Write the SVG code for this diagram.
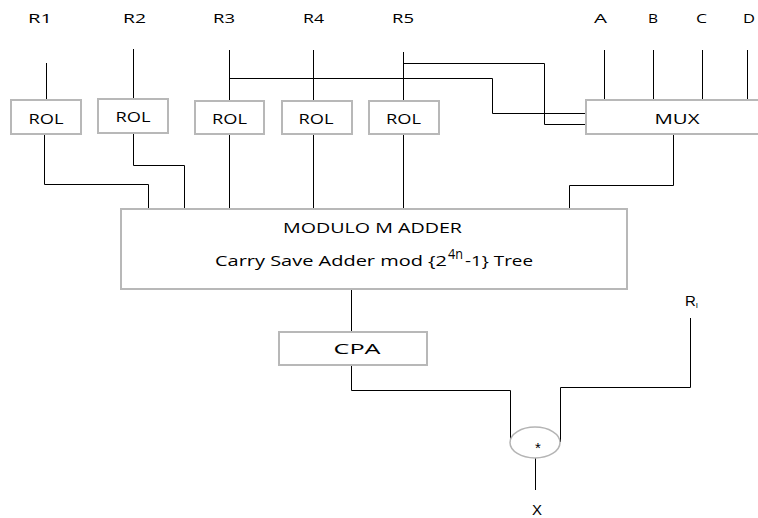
<svg xmlns="http://www.w3.org/2000/svg" width="758" height="518" viewBox="0 0 758 518">
<style>
.box{fill:#fff;stroke:#b8b8b8;stroke-width:2}
.w{fill:none;stroke:#000;stroke-width:1}
.t{font-family:"Open Sans","Liberation Sans",sans-serif;font-size:14px;fill:#000;text-anchor:middle}
.s{font-family:"Open Sans","Liberation Sans",sans-serif;font-size:15px;fill:#000}
.lb{font-family:"Open Sans","Liberation Sans",sans-serif;font-size:12px;fill:#000}
.a{font-family:"Liberation Sans",Arial,sans-serif;font-size:15px;fill:#000}
</style>
<rect width="758" height="518" fill="#fff"/>
<g id="connectors">
<path class="w" d="M46.5 63V114"/>
<path class="w" d="M133.5 49V99"/>
<path class="w" d="M229.5 50V208" stroke="#444" stroke-width="1.6"/>
<path class="w" d="M313.5 50V208"/>
<path class="w" d="M403.5 52V208"/>
<path class="w" d="M229.5 78.5H492.5V113.5H586"/>
<path class="w" d="M403.5 63.5H544.5V124.5H586"/>
<path class="w" d="M604.5 50V100M653.5 50V100M702.5 50V100M747.5 50V100"/>
<path class="w" d="M44.5 134V184.5H148.5V208"/>
<path class="w" d="M133.5 133V165.5H184.5V208"/>
<path class="w" d="M673.5 134V185.5H569.5V208" stroke="#333" stroke-width="1.4"/>
<path class="w" d="M351.5 289V332"/>
<path class="w" d="M351.5 365V390.5H510.5V443"/>
<path class="w" d="M560.5 442V387.5H690.5V318"/>
<path class="w" d="M535.5 458V490"/>
</g>
<g id="rol1"><rect class="box" x="11" y="100" width="70" height="34"/><text class="t" x="46" y="124" textLength="35" lengthAdjust="spacingAndGlyphs">ROL</text></g>
<g id="rol2"><rect class="box" x="98" y="99" width="70" height="34"/><text class="t" x="133" y="122" textLength="35" lengthAdjust="spacingAndGlyphs">ROL</text></g>
<g id="rol3"><rect class="box" x="195" y="101" width="69" height="33"/><text class="t" x="229.5" y="124" textLength="35" lengthAdjust="spacingAndGlyphs">ROL</text></g>
<g id="rol4"><rect class="box" x="282" y="101" width="70" height="33"/><text class="t" x="316" y="124" textLength="35" lengthAdjust="spacingAndGlyphs">ROL</text></g>
<g id="rol5"><rect class="box" x="369" y="101" width="70" height="33"/><text class="t" x="403.5" y="124" textLength="35" lengthAdjust="spacingAndGlyphs">ROL</text></g>
<g id="mux"><rect class="box" x="586" y="100" width="180" height="34"/><text class="t" x="677" y="124" textLength="45" lengthAdjust="spacingAndGlyphs">MUX</text></g>
<g id="adder"><rect class="box" x="121" y="209" width="506" height="80"/>
<text class="s" x="283" y="233" textLength="179" lengthAdjust="spacingAndGlyphs">MODULO M ADDER</text>
<text class="s" x="215" y="266" textLength="232" lengthAdjust="spacingAndGlyphs">Carry Save Adder mod {2</text>
<text class="s" x="448" y="259" font-size="9" textLength="15" lengthAdjust="spacingAndGlyphs">4n</text>
<text class="s" x="465" y="266" textLength="68" lengthAdjust="spacingAndGlyphs">-1} Tree</text></g>
<g id="cpa"><rect class="box" x="279" y="332" width="148" height="33"/><text class="t" x="357" y="354" font-size="13" textLength="47" lengthAdjust="spacingAndGlyphs">CPA</text></g>
<g id="mult"><ellipse cx="535" cy="442.5" rx="25" ry="15.5" fill="#fff" stroke="#b4b4b4" stroke-width="1.5"/><text class="a" x="535" y="453">*</text></g>
<g id="labels">
<text class="lb" x="28" y="23" textLength="24" lengthAdjust="spacingAndGlyphs">R1</text>
<text class="lb" x="123" y="23" textLength="23" lengthAdjust="spacingAndGlyphs">R2</text>
<text class="lb" x="213" y="23" textLength="22" lengthAdjust="spacingAndGlyphs">R3</text>
<text class="lb" x="303" y="23" textLength="21" lengthAdjust="spacingAndGlyphs">R4</text>
<text class="lb" x="392" y="23" textLength="22" lengthAdjust="spacingAndGlyphs">R5</text>
<text class="lb" x="594" y="23" textLength="13" lengthAdjust="spacingAndGlyphs">A</text>
<text class="lb" x="648" y="23" textLength="10" lengthAdjust="spacingAndGlyphs">B</text>
<text class="lb" x="696" y="23" textLength="11" lengthAdjust="spacingAndGlyphs">C</text>
<text class="lb" x="743" y="23" textLength="12" lengthAdjust="spacingAndGlyphs">D</text>
<text class="a" x="685" y="306">R<tspan font-size="8" dy="2">I</tspan></text>
<text class="a" x="532" y="515">X</text>
</g>
</svg>
